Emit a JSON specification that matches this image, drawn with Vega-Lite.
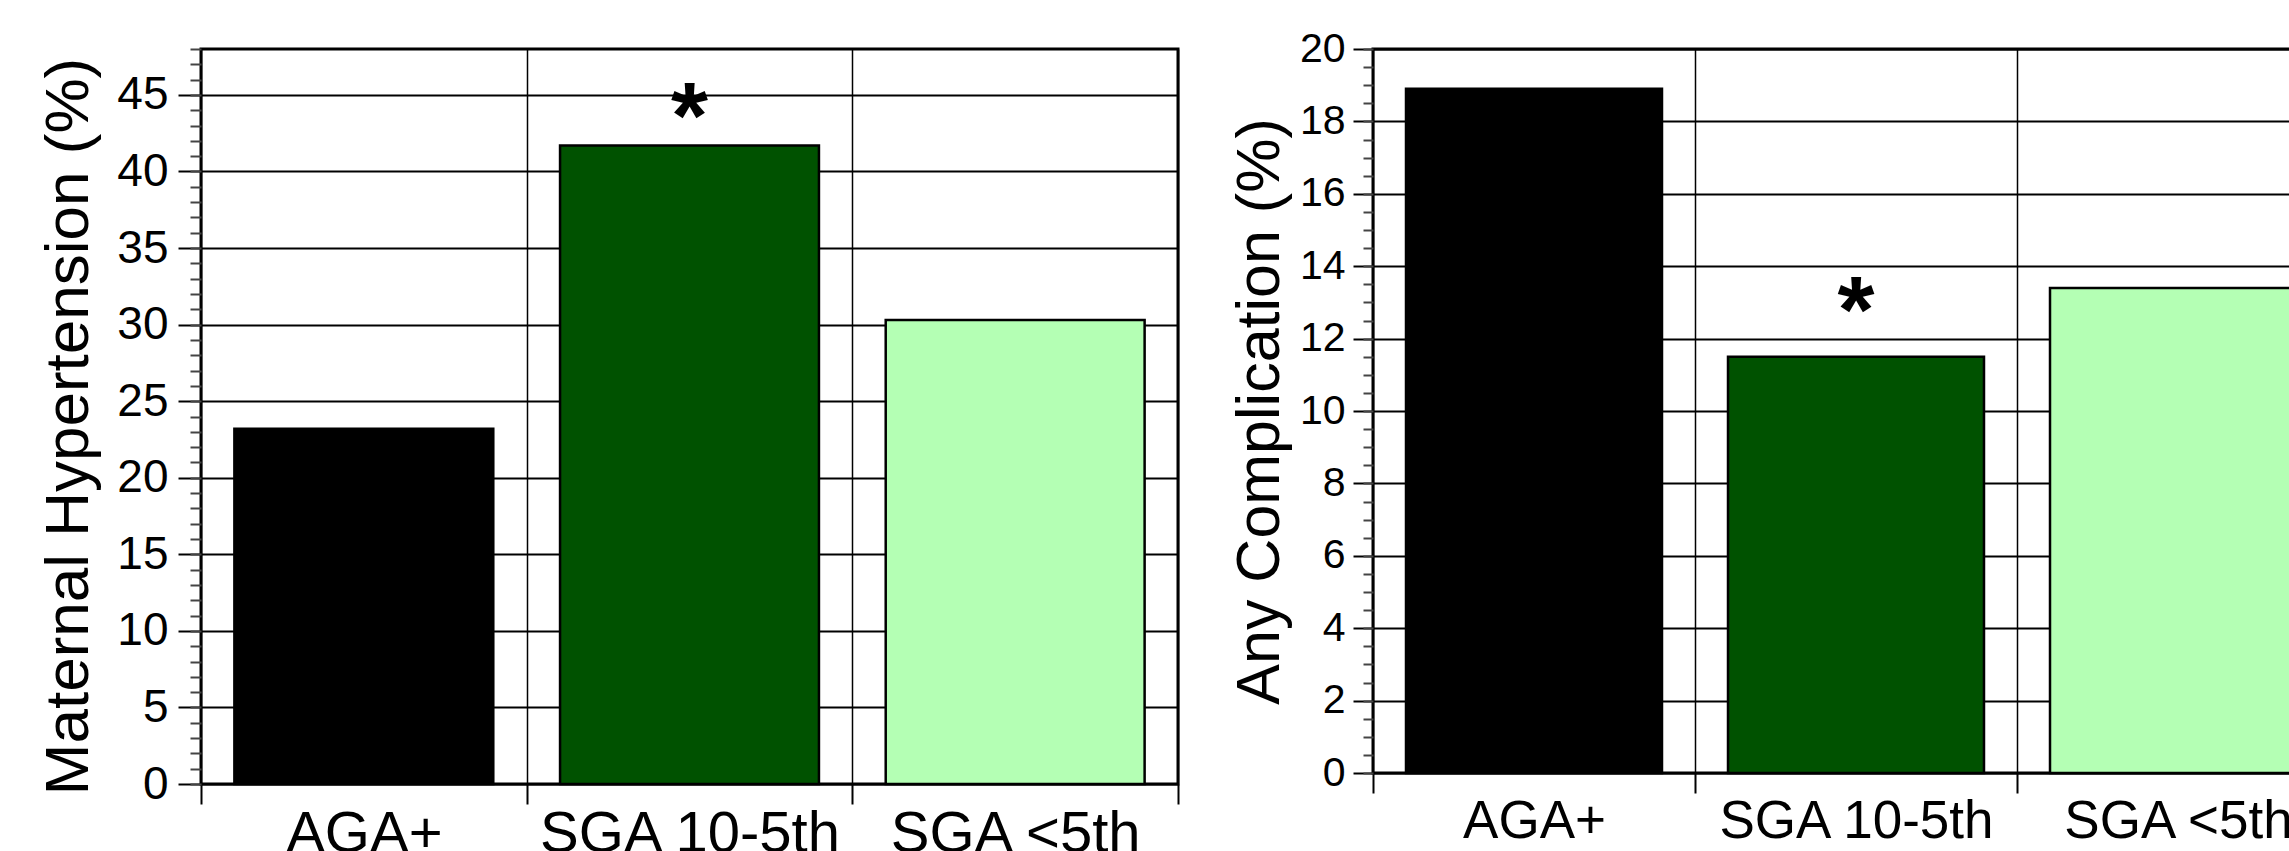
{
  "$schema": "https://vega.github.io/schema/vega-lite/v6.json",
  "background": "white",
  "autosize": {"type": "pad"},
  "padding": {"left": 36, "top": 26, "right": 0, "bottom": 0},
  "bounds": "flush",
  "spacing": 195,
  "config": {
    "font": "Liberation Sans",
    "view": {"stroke": "black", "strokeWidth": 3},
    "axis": {"labelColor": "black", "titleColor": "black", "tickColor": "black", "domain": false, "labelFont": "Liberation Sans", "titleFont": "Liberation Sans", "titleFontWeight": "normal", "labelLimit": 0}
  },
  "hconcat": [
    {
      "width": 977,
      "height": 735,
      "data": {"values": [
        {"group": "AGA+", "pct": 23.2},
        {"group": "SGA 10-5th", "pct": 41.7},
        {"group": "SGA <5th", "pct": 30.3}
      ]},
      "layer": [
        {
          "mark": {"type": "bar", "stroke": "black", "strokeWidth": 2.5, "width": {"band": 0.795}},
          "encoding": {
            "x": {"field": "group", "type": "nominal", "sort": null,
              "scale": {"domain": ["AGA+", "SGA 10-5th", "SGA <5th"], "paddingInner": 0, "paddingOuter": 0},
              "axis": {"tickBand": "extent", "grid": true, "gridColor": "black", "gridWidth": 1.5, "gridOpacity": 1, "tickSize": 20, "tickWidth": 2, "labelFontSize": 58, "labelAngle": 0, "labelPadding": 1, "labelLimit": 0, "title": null}},
            "y": {"field": "pct", "type": "quantitative",
              "scale": {"domain": [0, 48], "nice": false},
              "axis": {"orient": "left", "values": [0, 5, 10, 15, 20, 25, 30, 35, 40, 45], "grid": true, "gridColor": "black", "gridWidth": 2, "gridOpacity": 1, "tickSize": 23, "tickWidth": 2, "labelFontSize": 46, "labelPadding": 10, "title": "Maternal Hypertension (%)", "titleFontSize": 62, "titlePadding": 16, "titleY": 377}},
            "fill": {"field": "group", "type": "nominal", "sort": null,
              "scale": {"domain": ["AGA+", "SGA 10-5th", "SGA <5th"], "range": ["#000000", "#005200", "#b4ffb4"]}, "legend": null}
          }
        },
        {
          "data": {"values": [{"group": "SGA 10-5th", "pos": 43.4, "sig": "*"}]},
          "mark": {"type": "text", "fontSize": 95, "fontWeight": "bold", "baseline": "middle", "align": "center", "color": "black"},
          "encoding": {
            "x": {"field": "group", "type": "nominal"},
            "y": {"field": "pos", "type": "quantitative",
              "axis": {"orient": "left", "values": [0, 1, 2, 3, 4, 5, 6, 7, 8, 9, 10, 11, 12, 13, 14, 15, 16, 17, 18, 19, 20, 21, 22, 23, 24, 25, 26, 27, 28, 29, 30, 31, 32, 33, 34, 35, 36, 37, 38, 39, 40, 41, 42, 43, 44, 45, 46, 47, 48], "grid": false, "labels": false, "tickSize": 11, "tickWidth": 2, "tickColor": "#444444", "title": null}},
            "text": {"field": "sig"}
          }
        }
      ],
      "resolve": {"axis": {"y": "independent"}}
    },
    {
      "width": 966,
      "height": 724,
      "data": {"values": [
        {"group": "AGA+", "pct": 18.9},
        {"group": "SGA 10-5th", "pct": 11.5},
        {"group": "SGA <5th", "pct": 13.4}
      ]},
      "layer": [
        {
          "mark": {"type": "bar", "stroke": "black", "strokeWidth": 2.5, "width": {"band": 0.795}},
          "encoding": {
            "x": {"field": "group", "type": "nominal", "sort": null,
              "scale": {"domain": ["AGA+", "SGA 10-5th", "SGA <5th"], "paddingInner": 0, "paddingOuter": 0},
              "axis": {"tickBand": "extent", "grid": true, "gridColor": "black", "gridWidth": 1.5, "gridOpacity": 1, "tickSize": 20, "tickWidth": 2, "labelFontSize": 53, "labelAngle": 0, "labelPadding": 2, "labelLimit": 0, "title": null}},
            "y": {"field": "pct", "type": "quantitative",
              "scale": {"domain": [0, 20], "nice": false},
              "axis": {"orient": "left", "values": [0, 2, 4, 6, 8, 10, 12, 14, 16, 18, 20], "grid": true, "gridColor": "black", "gridWidth": 2, "gridOpacity": 1, "tickSize": 20, "tickWidth": 2, "labelFontSize": 41, "labelPadding": 8, "title": "Any Complication (%)", "titleFontSize": 61, "titlePadding": 8}},
            "fill": {"field": "group", "type": "nominal", "sort": null,
              "scale": {"domain": ["AGA+", "SGA 10-5th", "SGA <5th"], "range": ["#000000", "#005200", "#b4ffb4"]}, "legend": null}
          }
        },
        {
          "data": {"values": [{"group": "SGA 10-5th", "pos": 12.7, "sig": "*"}]},
          "mark": {"type": "text", "fontSize": 95, "fontWeight": "bold", "baseline": "middle", "align": "center", "color": "black"},
          "encoding": {
            "x": {"field": "group", "type": "nominal"},
            "y": {"field": "pos", "type": "quantitative",
              "axis": {"orient": "left", "values": [0, 0.5, 1, 1.5, 2, 2.5, 3, 3.5, 4, 4.5, 5, 5.5, 6, 6.5, 7, 7.5, 8, 8.5, 9, 9.5, 10, 10.5, 11, 11.5, 12, 12.5, 13, 13.5, 14, 14.5, 15, 15.5, 16, 16.5, 17, 17.5, 18, 18.5, 19, 19.5, 20], "grid": false, "labels": false, "tickSize": 10, "tickWidth": 2, "tickColor": "#444444", "title": null}},
            "text": {"field": "sig"}
          }
        }
      ],
      "resolve": {"axis": {"y": "independent"}}
    }
  ]
}
